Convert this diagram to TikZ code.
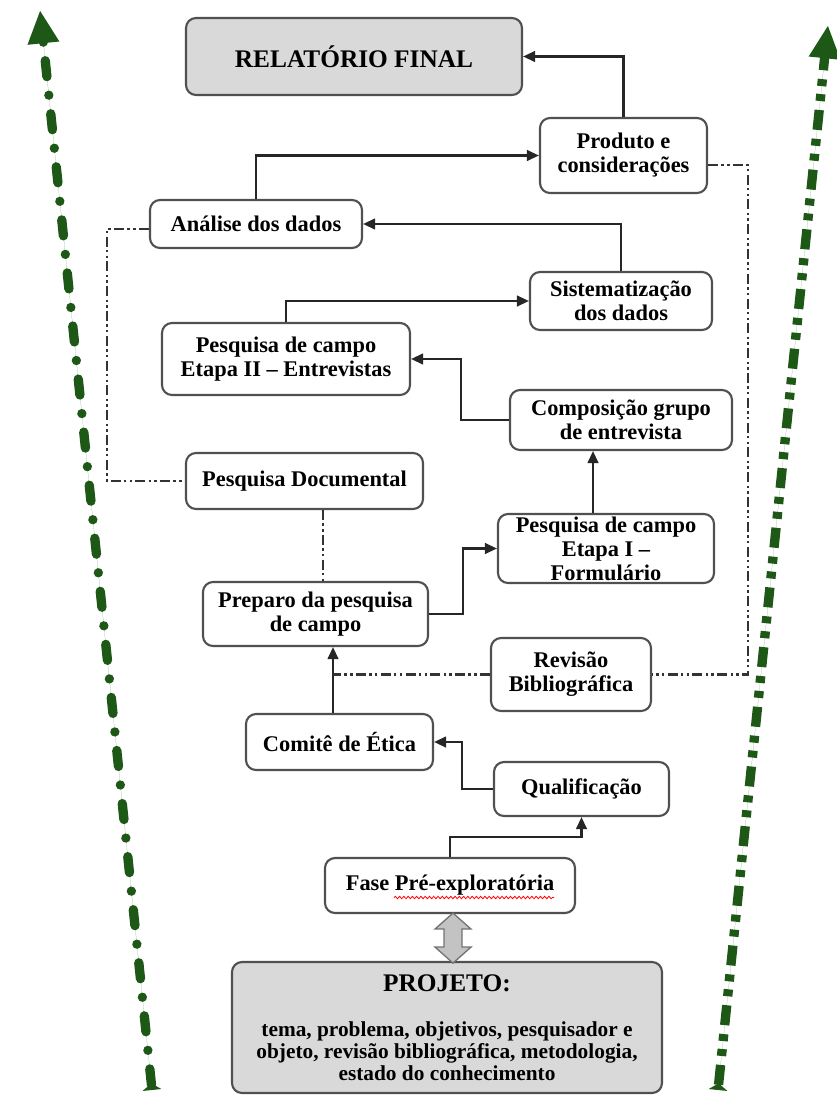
\documentclass[tikz,border=0pt]{standalone}
\usepackage{fontspec}
\setmainfont{Liberation Serif}
\usetikzlibrary{arrows.meta,calc,decorations.pathmorphing}
\definecolor{dgreen}{RGB}{30,88,22}
\definecolor{boxline}{RGB}{80,80,80}
\definecolor{boxgray}{RGB}{217,217,217}
\definecolor{dblgray}{RGB}{195,195,195}
\begin{document}
\begin{tikzpicture}[x=0.75pt,y=-0.75pt,
  box/.style={draw=boxline, line width=1.6pt, rounded corners=7.5pt, fill=white, align=center, inner sep=0pt,
    font=\bfseries\fontsize{16.8}{18}\selectfont},
  graybox/.style={box, fill=boxgray},
  sz/.style 2 args={minimum width=#1*0.75pt, minimum height=#2*0.75pt},
  conn/.style={draw=black!85, line width=1.6pt, -{Triangle[length=9pt,width=8pt]}},
  ddot/.style={draw=black!80, line width=1.6pt, dash pattern=on 7.5pt off 2.5pt on 1.8pt off 2.5pt on 1.8pt off 2.5pt},
  greenleft/.style={draw=dgreen, fill=dgreen, line width=7pt, line cap=round,
    dash pattern=on 12pt off 14pt on 0.01pt off 14pt,
    {Triangle[reversed,length=5pt,width=14pt]}-{Triangle[length=25pt,width=22pt]}},
  greenright/.style={draw=dgreen, fill=dgreen, line width=7pt,
    dash pattern=on 15pt off 6.75pt on 5.25pt off 6pt on 5.25pt off 6.75pt,
    {Triangle[reversed,length=5pt,width=14pt]}-{Triangle[length=25pt,width=22pt]}},
  dblarrow/.style={draw=black!55, fill=dblgray, line width=1pt, line join=miter}
]
\useasboundingbox (0,0) rectangle (836,1095);

% green side arrows
\coordinate (gl0) at (152,1090);
\coordinate (gl1) at (40,10);
\coordinate (gr0) at (718,1090);
\coordinate (gr1) at (828,25);
\draw[greenleft] (gl0) -- (gl1);
\draw[greenright] (gr0) -- (gr1);

% nodes
\node[graybox, sz={336}{77}, font=\bfseries\fontsize{19}{21}\selectfont] (rel) at (354,56.5) {RELATÓRIO FINAL};
\node[box, sz={167}{75}] (prod) at (623.5,155.5) {Produto e\\considerações};
\node[box, sz={212}{48}] (anal) at (256,224) {Análise dos dados};
\node[box, sz={182}{58}] (sist) at (621,301) {Sistematização\\dos dados};
\node[box, sz={248}{72}] (et2) at (286,359) {Pesquisa de campo\\Etapa II – Entrevistas};
\node[box, sz={222}{60}] (comp) at (621,420) {Composição grupo\\de entrevista};
\node[box, sz={237}{56}] (doc) at (304.5,481) {Pesquisa Documental};
\node[box, sz={216}{69}] (et1) at (606,548.5) {Pesquisa de campo\\Etapa I –\\Formulário};
\node[box, sz={225}{64}] (prep) at (315.5,614) {Preparo da pesquisa\\de campo};
\node[box, sz={160}{73}] (rev) at (571,674.5) {Revisão\\Bibliográfica};
\node[box, sz={187}{56}] (com) at (339.5,742) {Comitê de Ética};
\node[box, sz={175}{54}] (qual) at (581.5,789) {Qualificação};
\node[box, sz={250}{55}] (fase) at (450,885.5) {Fase Pré-exploratória};
\node[graybox, sz={430}{131}, font=\bfseries\fontsize{16}{16.5}\selectfont] (proj) at (447,1027.5)
  {{\fontsize{19}{21}\selectfont PROJETO:}\\[17pt]tema, problema, objetivos, pesquisador e\\objeto, revisão bibliográfica, metodologia,\\estado do conhecimento};

% spell-check underline
\draw[red, line width=0.6pt, decorate, decoration={snake, amplitude=0.9pt, segment length=3.2pt}]
  ($(fase.center)+(-56,12)$) -- ($(fase.center)+(104,12)$);

% solid connectors
\draw[conn] (prod.north) |- (rel.east);
\draw[conn] (anal.north) |- (prod.west);
\draw[conn] (sist.north) |- (anal.east);
\draw[conn] (et2.north) |- (sist.west);
\draw[conn] (comp.west) -- ++(-48,0) |- (et2.east);
\coordinate (e1top) at ($(et1.north)+(-13,0)$);
\draw[conn] (e1top) -- (e1top |- comp.south);
\draw[conn] (prep.east) -- ++(34,0) |- (et1.west);
\coordinate (ctop) at ($(com.north)+(-6.5,0)$);
\draw[conn] (ctop) -- (ctop |- prep.south);
\draw[conn] (qual.west) -- ++(-31,0) |- (com.east);
\draw[conn] (fase.north) -- ++(0,-20) -| (qual.south);

% dash-dot-dot connectors
\draw[ddot] ($(prod.east)+(0,9.5)$) -- ++(40,0) |- (rev.east);
\draw[ddot] ($(anal.west)+(0,5)$) -- ++(-42,0) |- (doc.west);
\coordinate (dbot) at ($(doc.south)+(18.5,0)$);
\draw[ddot] (dbot) -- (dbot |- prep.north);
\draw[ddot] (rev.west) -- (rev.west -| ctop);

% double arrow between Fase and Projeto
\draw[dblarrow] ($(fase.south)+(3,-1)$) -- ++(18,16) -- ++(-9,0) -- ++(0,18) -- ++(9,0) -- ++(-18,16)
  -- ++(-18,-16) -- ++(9,0) -- ++(0,-18) -- ++(-9,0) -- cycle;
\end{tikzpicture}
\end{document}
